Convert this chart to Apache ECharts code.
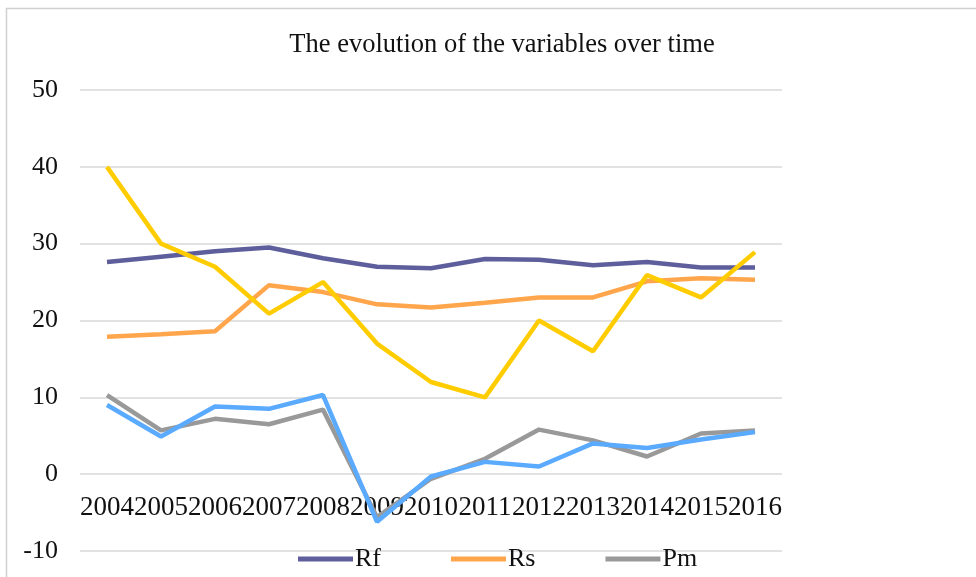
<!DOCTYPE html>
<html>
<head>
<meta charset="utf-8">
<script src="https://cdn.jsdelivr.net/npm/echarts@6/dist/echarts.min.js"></script>
<style>
  html, body { margin: 0; padding: 0; background: #fff; }
  #main { width: 976px; height: 577px; }
</style>
</head>
<body>
<div id="main"></div>
<script>
const years = ['2004', '2005', '2006', '2007', '2008', '2009', '2010', '2011', '2012', '2013', '2014', '2015', '2016']
const rf = [27.6, 28.3, 29.0, 29.5, 28.1, 27.0, 26.8, 28.0, 27.9, 27.2, 27.6, 26.9, 26.9]
const rs = [17.9, 18.2, 18.6, 24.6, 23.7, 22.1, 21.7, 22.3, 23.0, 23.0, 25.1, 25.5, 25.3]
const pm = [10.3, 5.7, 7.2, 6.5, 8.4, -5.6, -0.6, 2.0, 5.8, 4.4, 2.3, 5.3, 5.7]
const yellowSeries = [40, 30, 27, 20.9, 25, 17, 12, 10, 20, 16, 25.9, 23, 28.9]
const blueSeries = [9.0, 4.9, 8.8, 8.5, 10.3, -6.2, -0.3, 1.6, 1.0, 4.0, 3.4, 4.5, 5.5]
const legendNames = ['Rf', 'Rs', 'Pm']

const myChart = echarts.init(document.getElementById('main'))
const font = 'Liberation Serif'

const line = (name, data, color) => ({
  name: name,
  type: 'line',
  data: data,
  symbol: 'none',
  lineStyle: { color: color, width: 4.5 },
  itemStyle: { color: color }
})

const option = {
  animation: false,
  graphic: [{
    type: 'rect',
    left: 4,
    top: 6,
    shape: { width: 1000, height: 600 },
    style: { fill: 'none', stroke: '#d0d0d0', lineWidth: 1.5 },
    silent: true
  }],
  title: {
    text: 'The evolution of the variables over time',
    left: 497,
    textAlign: 'center',
    top: 27,
    textStyle: { fontFamily: font, fontSize: 26.5, fontWeight: 'normal', color: '#111' }
  },
  legend: {
    data: legendNames,
    left: 293,
    top: 541,
    itemWidth: 55,
    itemHeight: 5,
    itemGap: 70,
    icon: 'rect',
    textStyle: { fontFamily: font, fontSize: 26, color: '#111', padding: [0, 0, 0, -3] }
  },
  grid: { left: 80, right: 194, top: 90, bottom: 26, containLabel: false, outerBoundsMode: 'none' },
  xAxis: {
    type: 'category',
    data: years,
    // sit the axis on the zero line (10 units = 1/6 of the plot height)
    offset: -77,
    axisLine: { show: false, onZero: false },
    axisTick: { show: false },
    axisLabel: { interval: 0, margin: 20, hideOverlap: false, fontFamily: font, fontSize: 27, color: '#111' }
  },
  yAxis: {
    type: 'value',
    min: -10,
    max: 50,
    interval: 10,
    axisLine: { show: false },
    axisTick: { show: false },
    axisLabel: { margin: 22, fontFamily: font, fontSize: 26, color: '#111' },
    splitLine: { lineStyle: { color: '#d9d9d9', width: 1.5 } }
  },
  series: [
    line('Rf', rf, '#5e5e9c'),
    line('Rs', rs, '#ffa64d'),
    line('Pm', pm, '#999999'),
    line('Series 4', yellowSeries, '#ffcc00'),
    line('Series 5', blueSeries, '#5aaaff')
  ]
}

option && myChart.setOption(option)

window.addEventListener('resize', function () {
  myChart.resize()
})
</script>
</body>
</html>
